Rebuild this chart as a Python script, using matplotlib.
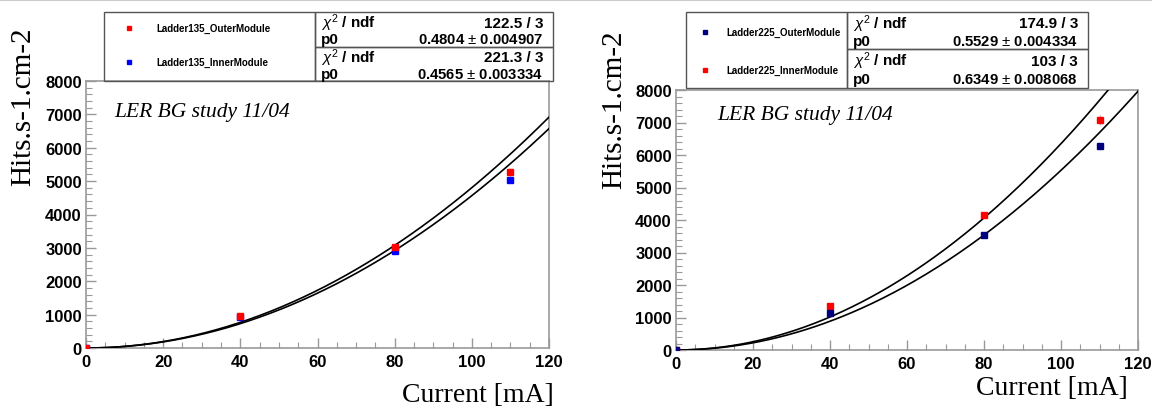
import numpy as np
import matplotlib
matplotlib.use('Agg')
import matplotlib.pyplot as plt
from matplotlib.patches import Rectangle
from matplotlib.lines import Line2D

plt.rcParams['font.family'] = ['Liberation Sans', 'DejaVu Sans']
plt.rcParams['mathtext.fontset'] = 'custom'
plt.rcParams['mathtext.rm'] = 'Liberation Sans'
plt.rcParams['mathtext.it'] = 'Liberation Sans:italic'

# Beam current points (mA)
current = [0, 40, 80, 110]

# Ladder 135 measurements (Hits.s-1.cm-2)
l135_outer = [0, 950, 3025, 5270]
l135_outer_err = [0, 40, 60, 110]
l135_inner = [0, 940, 2905, 5035]
l135_inner_err = [0, 30, 50, 80]

# Ladder 225 measurements
l225_outer = [0, 1140, 3540, 6275]
l225_outer_err = [0, 30, 50, 70]
l225_inner = [0, 1355, 4155, 7075]
l225_inner_err = [0, 50, 80, 150]

# Fit results p0 * x^2
fit_labels = ['Ladder135_OuterModule', 'Ladder135_InnerModule',
              'Ladder225_OuterModule', 'Ladder225_InnerModule']
fit_p0 = [0.4804, 0.4565, 0.5529, 0.6349]
fit_p0_err = ['0.004907', '0.003334', '0.004334', '0.008068']
fit_chi2 = ['122.5 / 3', '221.3 / 3', '174.9 / 3', '103 / 3']

W, H = 1152, 410
FRAME = '#999999'


def fx(px):
    return px / W


def fy(py):
    return 1 - py / H


def setup_axes(ax):
    ax.set_xlim(0, 120)
    ax.set_ylim(0, 8000)
    ax.set_xticks(np.arange(0, 121, 20))
    ax.set_xticks(np.arange(0, 121, 5), minor=True)
    ax.set_yticks(np.arange(0, 8001, 1000))
    ax.set_yticks(np.arange(0, 8001, 200), minor=True)
    ax.tick_params(which='both', direction='in', color=FRAME, top=False, right=False,
                   labelsize=12)
    ax.tick_params(which='major', length=7, width=1)
    ax.tick_params(which='minor', length=4, width=0.8)
    ax.tick_params(axis='x', pad=4)
    ax.tick_params(axis='y', pad=3)
    for lab in ax.get_xticklabels() + ax.get_yticklabels():
        lab.set_fontweight('bold')
    for sp in ax.spines.values():
        sp.set_color(FRAME)
        sp.set_linewidth(1.2)


def plot_points(ax, y, yerr, color):
    ax.errorbar(current, y, yerr=yerr, fmt='s', color=color, ms=4, mec=color,
                ecolor='#bbbbbb', elinewidth=1, capsize=0, zorder=5)


def plot_fit(ax, p0):
    xs = np.linspace(0, 120, 300)
    ax.plot(xs, p0 * xs ** 2, color='black', lw=1.2, zorder=3)


def stat_box(fig, left, right, top, mid, bottom, chi_a, p_a, chi_b, p_b):
    for y0, y1, chi, p in [(top, mid, chi_a, p_a), (mid, bottom, chi_b, p_b)]:
        fig.add_artist(Rectangle((fx(left), fy(y1)), fx(right) - fx(left), fy(y0) - fy(y1),
                                 transform=fig.transFigure, fill=False, ec='#555555', lw=1))
        h = y1 - y0
        fig.text(fx(left + 6), fy(y0 + h * 0.30), r'$\chi^{2}$ / ndf', fontsize=11,
                 fontweight='bold', va='center', ha='left')
        fig.text(fx(left + 6), fy(y0 + h * 0.78), 'p0', fontsize=11,
                 fontweight='bold', va='center', ha='left')
        fig.text(fx(right - 10), fy(y0 + h * 0.30), chi, fontsize=11,
                 fontweight='bold', va='center', ha='right')
        fig.text(fx(right - 10), fy(y0 + h * 0.78), p, fontsize=10.7,
                 fontweight='bold', va='center', ha='right')


def legend_box(fig, left, right, top, bottom, entries):
    fig.add_artist(Rectangle((fx(left), fy(bottom)), fx(right) - fx(left), fy(top) - fy(bottom),
                             transform=fig.transFigure, fill=False, ec='#555555', lw=1))
    for (mx, tx, ty, label, color) in entries:
        fig.add_artist(Line2D([fx(mx)], [fy(ty)], marker='s', ms=3, color=color,
                              transform=fig.transFigure))
        fig.text(fx(tx), fy(ty), label, fontsize=7, fontweight='bold', va='center', ha='left')


fig = plt.figure(figsize=(11.52, 4.10), dpi=100)

# light grey line along the top of the screenshot
fig.add_artist(Line2D([0, 1], [fy(1), fy(1)], color='#cccccc', lw=1.5, transform=fig.transFigure))

# Left panel: ladder 135
ax1 = fig.add_axes([fx(86), fy(349), fx(549) - fx(86), fy(82) - fy(349)])
plot_fit(ax1, fit_p0[0])
plot_fit(ax1, fit_p0[1])
plot_points(ax1, l135_inner, l135_inner_err, '#0000ff')
plot_points(ax1, l135_outer, l135_outer_err, '#ff0000')
setup_axes(ax1)
ax1.text(0.06, 0.885, 'LER BG study 11/04', transform=ax1.transAxes, fontsize=15.5,
         family='Liberation Serif', style='italic', va='center', ha='left')

# Right panel: ladder 225
ax2 = fig.add_axes([fx(676), fy(351), fx(1138) - fx(676), fy(91) - fy(351)])
plot_fit(ax2, fit_p0[2])
plot_fit(ax2, fit_p0[3])
plot_points(ax2, l225_inner, l225_inner_err, '#ff0000')
plot_points(ax2, l225_outer, l225_outer_err, '#000080')
setup_axes(ax2)
ax2.text(0.09, 0.905, 'LER BG study 11/04', transform=ax2.transAxes, fontsize=15.5,
         family='Liberation Serif', style='italic', va='center', ha='left')

# axis titles
for cx, cy in [(23, 107), (614, 110)]:
    fig.text(fx(cx), fy(cy), 'Hits.s-1.cm-2', rotation=90, fontsize=21,
             family='Liberation Serif', va='center', ha='center')
for cx, cy in [(478, 396), (1052, 389)]:
    fig.text(fx(cx), fy(cy), 'Current [mA]', fontsize=20,
             family='Liberation Serif', va='center', ha='center')

# legends and fit statistics
legend_box(fig, 104, 315, 13, 82, [
    (129, 156, 29, fit_labels[0], '#ff0000'),
    (129, 156, 63, fit_labels[1], '#0000ff')])
stat_box(fig, 315, 553, 13, 48, 82,
         fit_chi2[0], '%s $\\pm$ %s' % (fit_p0[0], fit_p0_err[0]),
         fit_chi2[1], '%s $\\pm$ %s' % (fit_p0[1], fit_p0_err[1]))

legend_box(fig, 686, 847, 13, 89, [
    (705, 726, 33, fit_labels[2], '#000080'),
    (705, 726, 71, fit_labels[3], '#ff0000')])
stat_box(fig, 847, 1088, 13, 50, 89,
         fit_chi2[2], '%s $\\pm$ %s' % (fit_p0[2], fit_p0_err[2]),
         fit_chi2[3], '%s $\\pm$ %s' % (fit_p0[3], fit_p0_err[3]))

plt.savefig('out.png', dpi=100)
